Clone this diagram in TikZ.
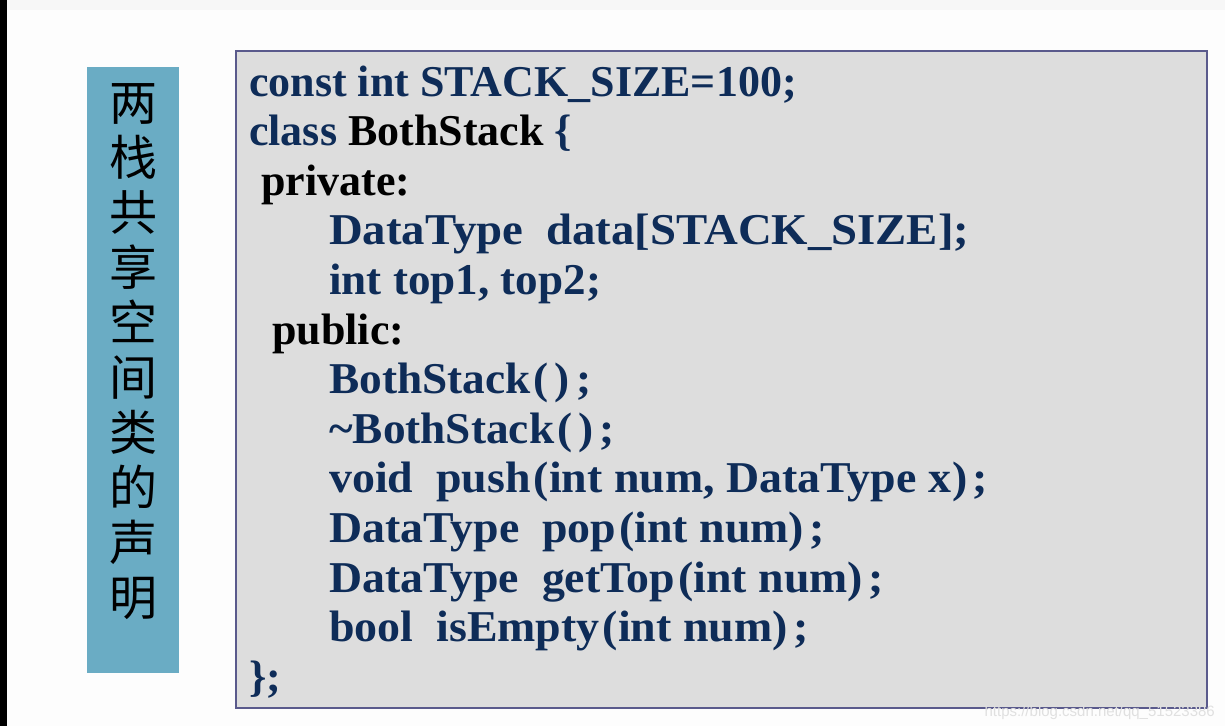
\documentclass[tikz,border=0pt]{standalone}
\usepackage{fontspec}
\setmainfont{Liberation Serif}
\newfontfamily\cjk{Noto Sans CJK SC}
\newfontfamily\wmfont{Liberation Sans}
\definecolor{navy}{RGB}{14,44,88}
\definecolor{tealbox}{RGB}{106,172,196}
\definecolor{codebg}{RGB}{221,221,221}
\definecolor{codeframe}{RGB}{90,90,140}
\definecolor{pagebg}{RGB}{253,253,253}
\newcommand\codefont{\fontsize{44}{50}\selectfont\bfseries}
\tikzset{
  codeline/.style={anchor=base west, inner sep=0pt, font=\codefont, text=navy},
  keyline/.style={codeline, text=black},
  wide/.style={xscale=#1, transform shape},
}
\begin{document}
\begin{tikzpicture}[x=1pt,y=-1pt]
\useasboundingbox (0,0) rectangle (1225,726);
% page background
\fill[pagebg] (0,0) rectangle (1225,726);
\fill[black!3] (0,0) rectangle (1225,10);
\fill[black] (0,0) rectangle (7,726);
% left title box
\node[draw=none, fill=tealbox, minimum width=92pt, minimum height=606pt, inner sep=0pt, anchor=north west] (titlebox) at (87,67) {};
\node[inner sep=0pt, align=center, font=\cjk\fontsize{48}{55}\selectfont, text=black] (title) at (133,352)
  {两\\栈\\共\\享\\空\\间\\类\\的\\声\\明};
% code box
\node[draw=codeframe, line width=2pt, fill=codebg, minimum width=971pt, minimum height=657pt, inner sep=0pt, anchor=north west] (codebox) at (235,50) {};
% code lines
\node[codeline] (l1) at (249,96) {const int STACK\_SIZE=100;};
\node[codeline] (l2) at (249,145.6) {class {\color{black}BothStack} \{};
\node[keyline] (l3) at (261,195.2) {private:};
\node[codeline, wide=1.063] (l4) at (329,244.8) {DataType\ \ data[STACK\_SIZE];};
\node[codeline, wide=1.025] (l5) at (329,294.4) {int top1, top2;};
\node[keyline] (l6) at (272,344) {public:};
\node[codeline, wide=1.03] (l7) at (329,393.6) {BothStack\kern3pt(\kern6pt)\kern6pt;};
\node[codeline, wide=1.03] (l8) at (329,443.2) {\textasciitilde BothStack\kern3pt(\kern6pt)\kern6pt;};
\node[codeline, wide=1.043] (l9) at (329,492.8) {void\ \ push\kern3pt(int num, DataType x\kern1pt)\kern5pt;};
\node[codeline, wide=1.042] (l10) at (329,542.4) {DataType\ \ pop\kern3pt(int num)\kern5pt;};
\node[codeline, wide=1.041] (l11) at (329,592) {DataType\ \ getTop\kern3pt(int num)\kern5pt;};
\node[codeline, wide=1.044] (l12) at (329,641.6) {bool\ \ isEmpty\kern3pt(int num)\kern5pt;};
\node[codeline] (l13) at (249,691.2) {\};};
% watermark
\node[anchor=base east, inner sep=0pt, font=\wmfont\fontsize{15}{18}\selectfont, text=black!12] (wm) at (1215,716) {https://blog.csdn.net/qq\_51523386};
\end{tikzpicture}
\end{document}
